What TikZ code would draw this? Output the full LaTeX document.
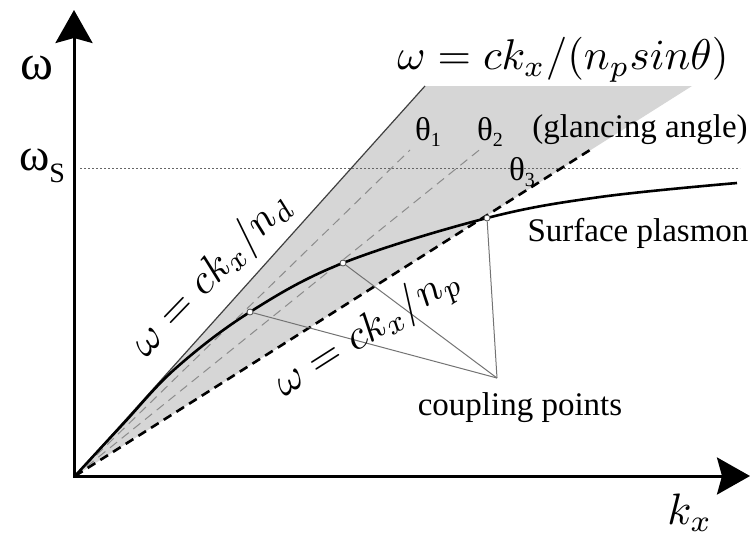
\documentclass[tikz,border=0pt]{standalone}
\usepackage{fontspec}
\setmainfont{Liberation Serif}
\usetikzlibrary{arrows.meta}
\newcommand{\scmath}[2]{\scalebox{#1}{$#2$}}
\begin{document}
\begin{tikzpicture}[x=1pt,y=-1pt,
  axis/.style={line width=3pt,-{Stealth[length=33pt,width=37pt,inset=5pt]}},
  lightline/.style={line width=1.2pt,black!75},
  thetaline/.style={line width=1pt,black!45,dash pattern=on 9pt off 6pt},
  npline/.style={line width=2.6pt,black,dash pattern=on 9pt off 6pt},
  spcurve/.style={line width=2.6pt,black},
  couple/.style={line width=1pt,black!55},
  cpt/.style={circle,draw=black!70,fill=white,line width=0.8pt,inner sep=0pt,minimum size=6pt},
  lbl/.style={font=\fontsize{33}{38}\selectfont,inner sep=0pt},
  mlbl/.style={inner sep=0pt}]
\useasboundingbox (0,0) rectangle (751,542);
% named coordinates
\coordinate (O) at (75,476);
\coordinate (ytip) at (74,10);
\coordinate (xtip) at (750,476);
\coordinate (ndend) at (425,86);
\coordinate (shadeR) at (692,86);
\coordinate (t1end) at (410,150);
\coordinate (t2end) at (483,147);
\coordinate (npend) at (590,150);
\coordinate (dotL) at (80,168);
\coordinate (dotR) at (740,168);
\coordinate (cc) at (497,378);
% shaded region
\fill[black!16] (O) -- (ndend) -- (shadeR) -- cycle;
% dotted omega_s line
\draw[black!60,line width=1pt,dash pattern=on 2pt off 2pt] (dotL) -- (dotR);
% light lines
\draw[lightline] (O) -- (ndend);
\draw[thetaline] (O) -- (t1end);
\draw[thetaline] (O) -- (t2end);
\draw[npline] (O) -- (npend);
% surface plasmon curve
\draw[spcurve] plot[smooth,tension=0.6] coordinates {(75,476) (123,424) (176,368) (250,312) (343,263) (487,218) (600,197) (737,183)};
% coupling points
\node[cpt] (p1) at (250,312) {};
\node[cpt] (p2) at (343,263) {};
\node[cpt] (p3) at (487,218) {};
\draw[couple] (p1) -- (cc);
\draw[couple] (p2) -- (cc);
\draw[couple] (p3) -- (cc);
% axes
\draw[axis] (74,477) -- (ytip);
\draw[axis] (73,476) -- (xtip);
% labels
\node[font=\fontsize{50}{56}\selectfont,inner sep=0pt] (wlab) at (37,68) {ω};
\node[font=\fontsize{46}{52}\selectfont,inner sep=0pt] (wslab) at (42,166) {ω\raisebox{-0.25em}{\fontsize{28}{30}\selectfont S}};
\node[mlbl] (f1) at (563,60) {\scmath{4.3}{\omega = ck_x/(n_p sin\theta)}};
\node[lbl] (th1) at (428,132) {θ\raisebox{-0.2em}{\fontsize{20}{22}\selectfont 1}};
\node[lbl] (th2) at (490,132) {θ\raisebox{-0.2em}{\fontsize{20}{22}\selectfont 2}};
\node[lbl] (th3) at (522,172) {θ\raisebox{-0.2em}{\fontsize{20}{22}\selectfont 3}};
\node[lbl] (gl) at (640,130) {(glancing angle)};
\node[lbl] (sp) at (638,233) {Surface plasmon};
\node[mlbl,rotate=46] (fnd) at (212,275) {\scmath{4.2}{\omega = ck_x/n_d}};
\node[mlbl,rotate=32.5] (fnp) at (368,333) {\scmath{4.2}{\omega = ck_x/n_p}};
\node[lbl] (cplab) at (520,408) {coupling points};
\node[mlbl] (kx) at (690,513) {\scmath{4.4}{k_x}};
\end{tikzpicture}
\end{document}
